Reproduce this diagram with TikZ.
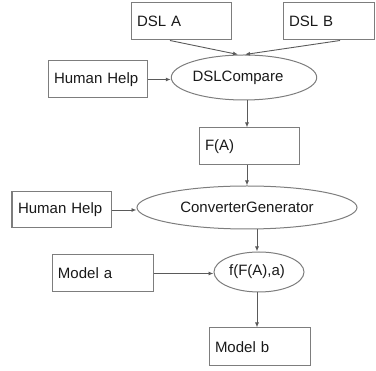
\documentclass[tikz,border=0pt]{standalone}
\usepackage{fontspec}
\setmainfont{Liberation Sans}
\usetikzlibrary{shapes.geometric,arrows.meta}
\definecolor{linec}{RGB}{90,90,90}
\definecolor{boxc}{RGB}{125,125,125}
\definecolor{txtc}{RGB}{25,25,25}
\tikzset{
  box/.style={draw=boxc, line width=1pt, minimum height=#1, inner xsep=6pt, inner ysep=0pt, align=left, text=txtc, font=\fontsize{15}{18}\selectfont},
  oval/.style={draw=boxc, line width=1pt, ellipse, inner sep=0pt, text=txtc, font=\fontsize{15}{18}\selectfont},
  conn/.style={draw=linec, line width=0.9pt, -{Latex[length=5pt,width=4pt]}}
}
\begin{document}
\begin{tikzpicture}[x=1pt,y=-1pt]
\useasboundingbox (0,0) rectangle (376,371);
\node[box=37pt, text width=88pt] (dsla) at (181,21.5) {DSL A};
\node[box=37pt, text width=79pt] (dslb) at (328.5,21.5) {DSL B};
\node[box=37pt, text width=87pt] (hh1) at (97.5,79.5) {Human Help};
\node[oval, minimum width=132pt, minimum height=45pt] (cmp) at (244,77.5) {\raisebox{2pt}{DSLCompare}\hspace*{12pt}};
\node[box=37pt, text width=88pt] (fa) at (249,146.5) {F(A)};
\node[oval, minimum width=220pt, minimum height=43pt] (cg) at (247,207.5) {ConverterGenerator};
\node[box=36pt, text width=87pt] (hh2) at (61.5,210) {Human Help};
\node[oval, minimum width=90pt, minimum height=40pt] (f) at (259,272) {\raisebox{2pt}{f(F(A),a)}\hspace*{4pt}};
\node[box=37pt, text width=89pt] (ma) at (102.5,273.5) {Model a};
\node[box=38pt, text width=89pt] (mb) at (259.5,347) {Model b};

\draw[conn] ([xshift=-11pt]dsla.south) -- ([xshift=-6pt]cmp.north);
\draw[conn] ([xshift=11.5pt]dslb.south) -- ([xshift=1pt]cmp.north);
\draw[conn] (hh1.east) -- (hh1.east -| cmp.west);
\draw[conn] ([xshift=-2pt]fa.north |- cmp.south) -- ([xshift=-2pt]fa.north);
\draw[conn] ([xshift=-2pt]fa.south) -- ([xshift=-2pt]fa.south |- cg.north);
\draw[conn] (hh2.east) -- (hh2.east -| cg.west);
\draw[conn] ([xshift=-2pt]f.north |- cg.south) -- ([xshift=-2pt]f.north);
\draw[conn] (ma.east) -- (ma.east -| f.west);
\draw[conn] ([xshift=-2pt]f.south) -- ([xshift=-2pt]f.south |- mb.north);
\end{tikzpicture}
\end{document}
